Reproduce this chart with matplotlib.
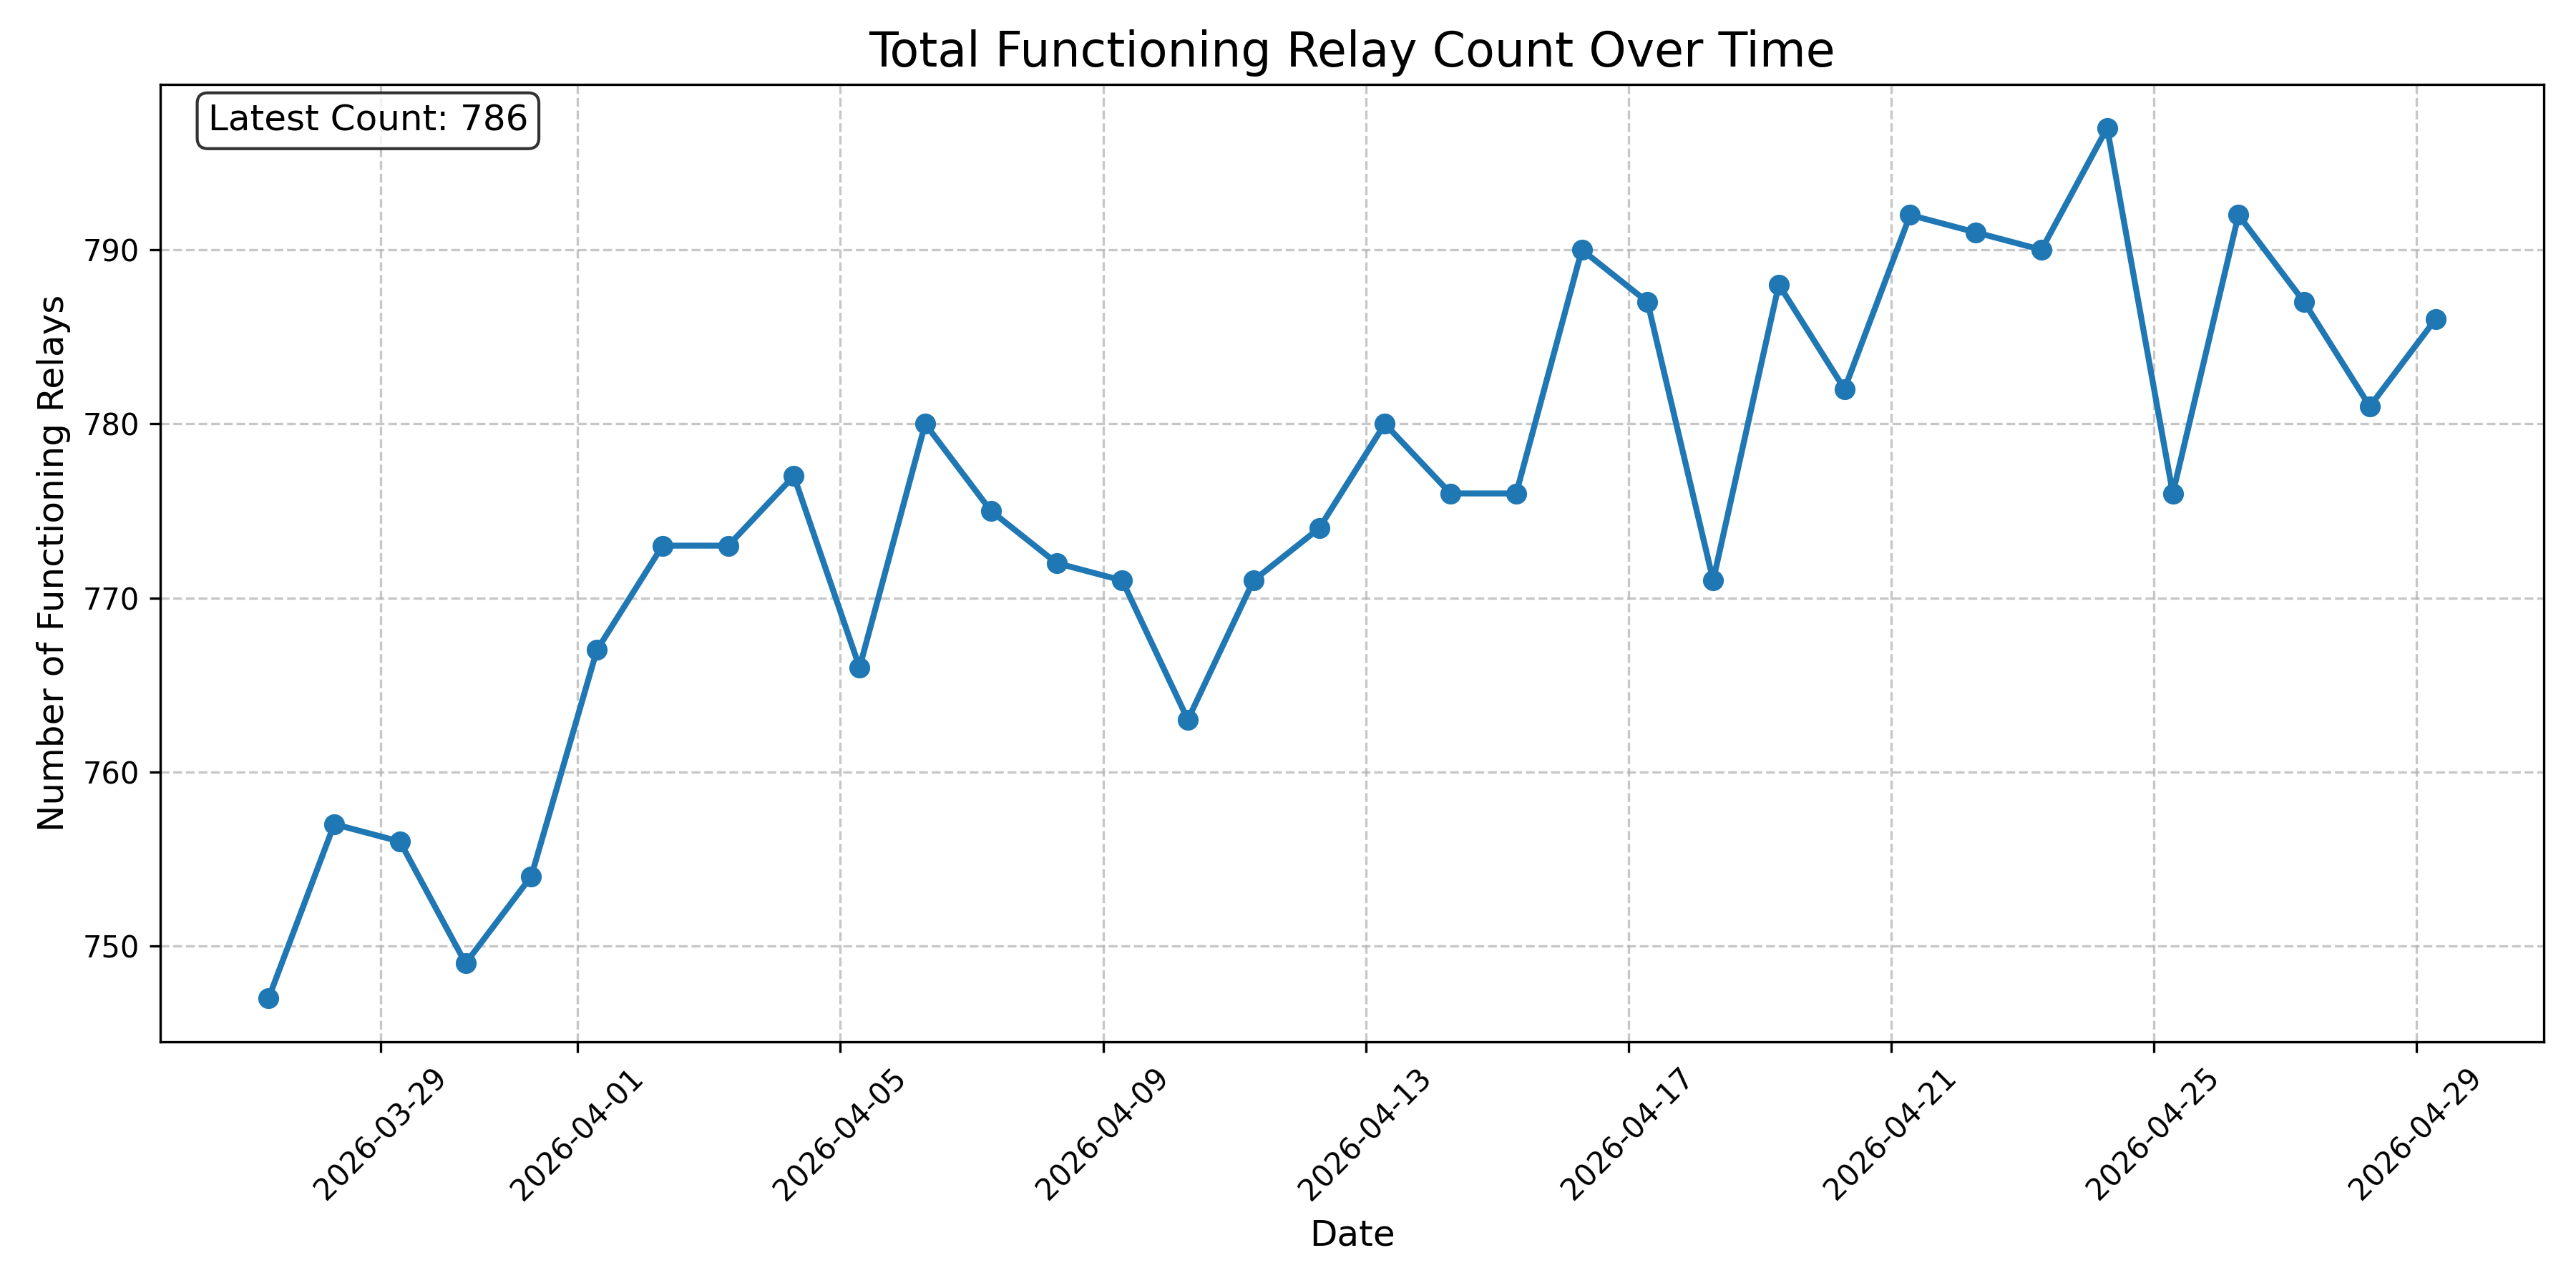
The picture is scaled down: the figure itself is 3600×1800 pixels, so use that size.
import matplotlib
matplotlib.use("Agg")
import matplotlib.pyplot as plt
import pandas as pd

start_time = "2026-03-27 07:00"
counts = [
    747, 757, 756, 749, 754, 767, 773, 773, 777, 766,
    780, 775, 772, 771, 763, 771, 774, 780, 776, 776,
    790, 787, 771, 788, 782, 792, 791, 790, 797, 776,
    792, 787, 781, 786,
]
dates = pd.date_range(start_time, periods=len(counts), freq="D")

fig, ax = plt.subplots(figsize=(12, 6))
ax.plot(dates, counts, marker="o", linewidth=2, markersize=6)
ax.set_title("Total Functioning Relay Count Over Time", fontsize=16)
ax.set_xlabel("Date", fontsize=12)
ax.set_ylabel("Number of Functioning Relays", fontsize=12)
ax.grid(True, linestyle="--", alpha=0.7)
plt.xticks(rotation=45)
ax.text(
    0.02, 0.98, f"Latest Count: {counts[-1]}",
    transform=ax.transAxes, fontsize=12, va="top",
    bbox=dict(boxstyle="round", facecolor="white", alpha=0.8),
)
plt.tight_layout()
plt.savefig("out.png", dpi=300)
